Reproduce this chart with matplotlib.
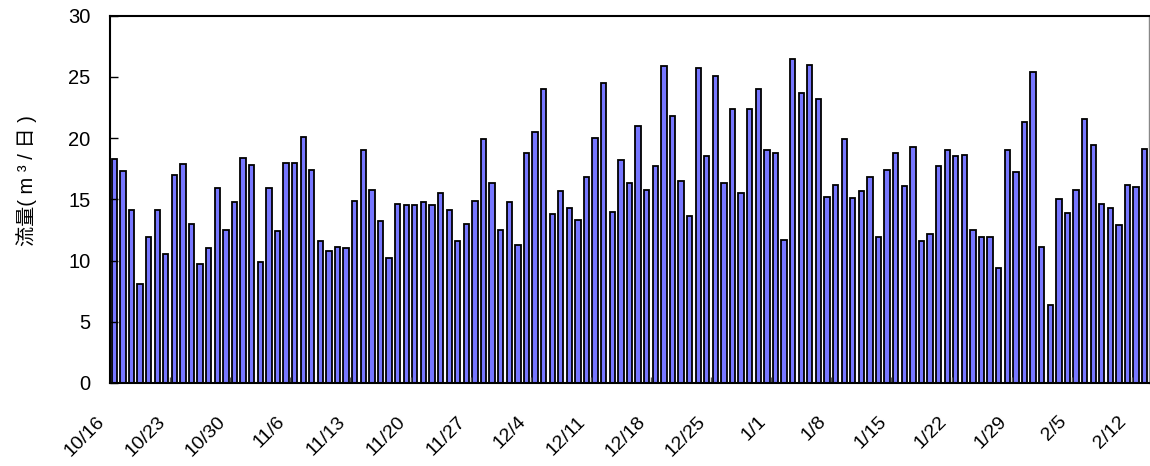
import matplotlib
matplotlib.use("Agg")
import matplotlib.pyplot as plt
import matplotlib.transforms as mtransforms
import numpy as np

plt.rcParams['font.family'] = ['Liberation Sans', 'Noto Sans CJK JP', 'DejaVu Sans']

values = [
    18.3, 17.3, 14.1, 8.1, 11.9, 14.1, 10.5, 17.0, 17.9, 13.0,
    9.7, 11.0, 15.9, 12.5, 14.8, 18.4, 17.8, 9.9, 15.9, 12.4,
    18.0, 18.0, 20.1, 17.4, 11.6, 10.8, 11.1, 11.0, 14.9, 19.0,
    15.8, 13.2, 10.2, 14.6, 14.5, 14.5, 14.8, 14.5, 15.5, 14.1,
    11.6, 13.0, 14.9, 19.9, 16.3, 12.5, 14.8, 11.3, 18.8, 20.5,
    24.0, 13.8, 15.7, 14.3, 13.3, 16.8, 20.0, 24.5, 14.0, 18.2,
    16.3, 21.0, 15.8, 17.7, 25.9, 21.8, 16.5, 13.6, 25.7, 18.5,
    25.1, 16.3, 22.4, 15.5, 22.4, 24.0, 19.0, 18.8, 11.7, 26.5,
    23.7, 26.0, 23.2, 15.2, 16.2, 19.9, 15.1, 15.7, 16.8, 11.9,
    17.4, 18.8, 16.1, 19.3, 11.6, 12.2, 17.7, 19.0, 18.5, 18.6,
    12.5, 11.9, 11.9, 9.4, 19.0, 17.2, 21.3, 25.4, 11.1, 6.4,
    15.0, 13.9, 15.8, 21.6, 19.4, 14.6, 14.3, 12.9, 16.2, 16.0, 19.1,
]
tick_labels = ['10/16', '10/23', '10/30', '11/6', '11/13', '11/20', '11/27',
               '12/4', '12/11', '12/18', '12/25', '1/1', '1/8', '1/15',
               '1/22', '1/29', '2/5', '2/12']
ylabel = '流量( m ³ / 日 )'

fig = plt.figure(figsize=(11.5, 4.66), dpi=100)
ax = fig.add_axes([110/1150, 83/466, 1039/1150, (383-15.7)/466])

x = np.arange(len(values))
ax.bar(x, values, width=0.62, color='#7777ff', edgecolor='black', linewidth=1.3)

ax.set_xlim(-0.5, len(values) - 0.5)
ax.set_ylim(0, 30)
ax.set_yticks(np.arange(0, 31, 5))
ax.tick_params(axis='y', direction='in', length=6, width=1, pad=14, labelsize=14.5)

ax.set_xticks(np.arange(0, len(values), 7))
ax.set_xticklabels(tick_labels, rotation=45, ha='right', va='center',
                   rotation_mode='anchor', fontsize=14)
ax.tick_params(axis='x', length=0, pad=26)
offset = mtransforms.ScaledTranslation(-12/100, 0, fig.dpi_scale_trans)
for lab in ax.get_xticklabels():
    lab.set_transform(lab.get_transform() + offset)
ax.set_xticks(np.arange(6.5, len(values), 7), minor=True)
ax.tick_params(axis='x', which='minor', direction='in', length=4, width=1, color='#555555')

for s in ['left', 'bottom', 'top']:
    ax.spines[s].set_linewidth(1.5)
    ax.spines[s].set_color('black')
ax.spines['right'].set_linewidth(1)
ax.spines['right'].set_color('#888888')

ax.set_ylabel(ylabel, fontsize=14.5)
ax.yaxis.set_label_coords(-0.07, 0.55)

fig.savefig('out.png', dpi=100)
